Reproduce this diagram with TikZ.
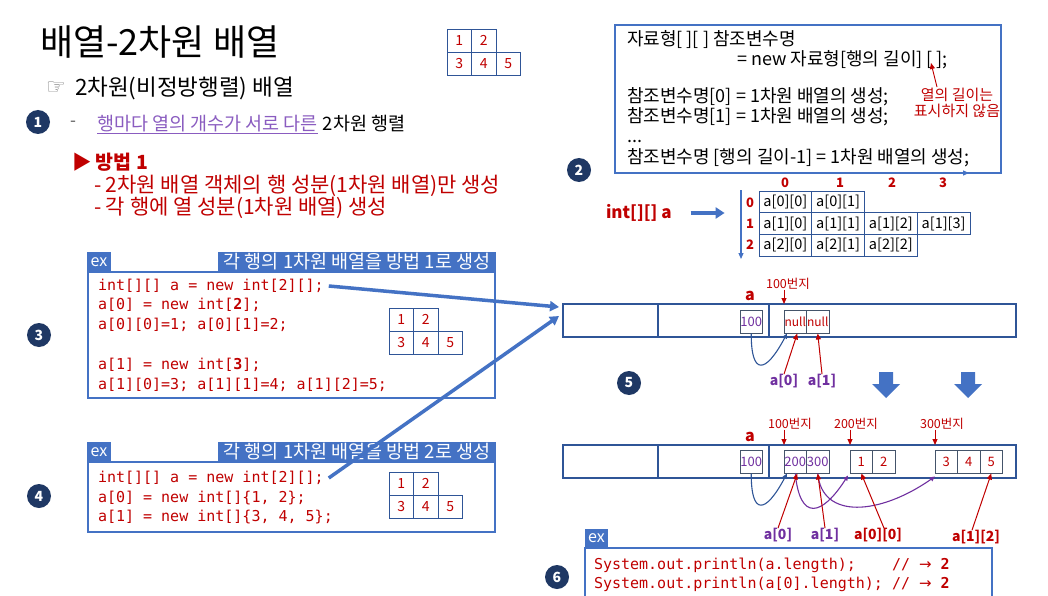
\documentclass[tikz,border=0pt]{standalone}
\usepackage{fontspec}
\setmainfont{Noto Sans CJK KR}
\setmonofont{DejaVu Sans Mono}
\newfontfamily\djv{DejaVu Sans}
\usetikzlibrary{arrows.meta}
\definecolor{navy}{HTML}{1F3864}
\definecolor{mblue}{HTML}{4472C4}
\definecolor{dblue}{HTML}{2F5597}
\definecolor{kred}{HTML}{C00000}
\definecolor{kpurple}{HTML}{7030A0}
\definecolor{lpurple}{HTML}{8A5CC0}
\definecolor{cellgray}{HTML}{44546A}
\newcommand\fsz[1]{\fontsize{#1}{#1}\selectfont}
\newcommand\rarr{{\djv\fsz{15}→}}
\begin{document}
\begin{tikzpicture}[x=1pt,y=-1pt,
  every node/.style={inner sep=0pt, outer sep=0pt},
  numc/.style={circle, fill=navy, text=white, minimum size=24pt, font=\bfseries\fsz{14}},
  txt/.style={anchor=west},
  code/.style={anchor=west, text=kred, font=\ttfamily\fsz{15}},
  smcell/.style={draw=dblue, line width=0.9pt, minimum width=24.5pt, minimum height=23pt, anchor=north west, text=kred, font=\fsz{14}},
  bigcell/.style={draw=dblue, line width=0.9pt, minimum width=52.75pt, minimum height=21.7pt, anchor=north west, font=\fsz{14.5}},
  mcell/.style={draw=cellgray, line width=0.9pt, minimum width=22.5pt, minimum height=23.5pt, anchor=north west, font=\fsz{13}},
  redarr/.style={draw=kred, line width=1pt, -{Triangle[length=6pt,width=5pt]}},
  tab/.style={fill=mblue, text=white, anchor=north west, minimum height=20pt},
  exbox/.style={draw=mblue, line width=1.5pt},
  memline/.style={draw=dblue, line width=2.6pt},
  bigarr/.style={draw=mblue, line width=3.5pt, -{Triangle[length=9pt,width=10pt]}},
  curv/.style={line width=1.1pt, -{Triangle[length=5pt,width=4.5pt]}},
  idx/.style={text=kred, font=\bfseries\fsz{13}},
  addr/.style={text=kred, font=\fsz{12.5}},
  lab/.style={font=\bfseries\fsz{14}},
  syn/.style={anchor=west, font=\fsz{18}}
]
\clip (0,0) rectangle (1048,596);
\fill[white] (0,0) rectangle (1048,596);

% ---------- title block ----------
\node[txt, font=\fsz{36}] (title) at (40,42) {배열-2차원 배열};
\node[txt, text=gray, font=\djv\fsz{22}] (hand) at (46,88) {☞};
\node[txt, font=\fsz{22.5}] (sub) at (75,88) {2차원(비정방행렬) 배열};
\node[numc] (c1) at (38,122) {1};
\node[txt, text=gray!70!black, font=\fsz{17}] (dash1) at (70,124) {-};
\node[txt, text=lpurple, font=\fsz{18.5}] (u1) at (97,124) {행마다 열의 개수가 서로 다른};
\draw[lpurple, line width=0.8pt] ([yshift=-1pt]u1.south west) -- ([yshift=-1pt]u1.south east);
\node[txt, font=\fsz{18.5}] (u2) at ([xshift=5pt]u1.east) {2차원 행렬};
\node[txt, text=kred, font=\bfseries\fsz{19.5}] (m1) at (72,162) {▶ 방법 1};
\node[txt, text=kred, font=\fsz{21}] (m2) at (94,186) {- 2차원 배열 객체의 행 성분(1차원 배열)만 생성};
\node[txt, text=kred, font=\fsz{21}] (m3) at (94,208) {- 각 행에 열 성분(1차원 배열) 생성};

% top small matrix
\node[smcell] (t11) at (447,29) {1};
\node[smcell] (t12) at (471.5,29) {2};
\node[smcell] (t21) at (447,52) {3};
\node[smcell] (t22) at (471.5,52) {4};
\node[smcell] (t23) at (496,52) {5};

% ---------- top right syntax box ----------
\node[draw=mblue, line width=1.4pt, anchor=north west, minimum width=386pt, minimum height=148pt] (synbox) at (615,25) {};
\node[syn] (b1) at (627,40) {자료형[ ][ ] 참조변수명};
\node[syn] (b2) at (737,60) {= new 자료형[행의 길이] [ ];};
\node[syn] (b3) at (627,97) {참조변수명[0] = 1차원 배열의 생성;};
\node[syn] (b4) at (627,117) {참조변수명[1] = 1차원 배열의 생성;};
\node[anchor=base west, font=\fsz{18}] (b5) at (627,143) {...};
\node[syn] (b6) at (627,158) {참조변수명 [행의 길이-1] = 1차원 배열의 생성;};
\node[text=kred, font=\fontsize{15}{16}\selectfont, align=center] (note) at (957,103) {열의 길이는\\표시하지 않음};
\coordinate (brk) at (931,63);
\draw[redarr, line width=0.9pt] (937,87) -- (brk);
\draw[draw=mblue, line width=1.2pt, -{Triangle[length=6pt,width=5pt]}] ([xshift=142pt]synbox.south west) -- ([xshift=-32pt]synbox.south east);
\node[numc] (c2) at (579,170) {2};

% column / row indices
\node[idx] (ci0) at (785,183) {0};
\node[idx] (ci1) at (840,183) {1};
\node[idx] (ci2) at (892,183) {2};
\node[idx] (ci3) at (943,183) {3};
\node[idx] (ri0) at (750,203) {0};
\node[idx] (ri1) at (750,224) {1};
\node[idx] (ri2) at (750,245) {2};
\coordinate (vtop) at (741,190);
\coordinate (vbot) at (741,259);
\draw[draw=mblue, line width=1.1pt, -{Triangle[length=6pt,width=5pt]}] (vtop) -- (vbot);

% big matrix
\node[bigcell] (g00) at (759,191) {a[0][0]};
\node[bigcell] (g01) at (811.75,191) {a[0][1]};
\node[bigcell] (g10) at (759,212.7) {a[1][0]};
\node[bigcell] (g11) at (811.75,212.7) {a[1][1]};
\node[bigcell] (g12) at (864.5,212.7) {a[1][2]};
\node[bigcell] (g13) at (917.25,212.7) {a[1][3]};
\node[bigcell] (g20) at (759,234.4) {a[2][0]};
\node[bigcell] (g21) at (811.75,234.4) {a[2][1]};
\node[bigcell] (g22) at (864.5,234.4) {a[2][2]};
\node[txt, text=kred, font=\bfseries\fsz{17}] (ia) at (606,213) {int[][] a};
\draw[draw=mblue, line width=4pt, -{Triangle[length=9pt,width=11pt]}] ([xshift=19pt]ia.east) -- ++(34,0);

% ---------- ex box 1 ----------
\node[tab, minimum width=24pt, font=\fsz{16}] (ex1) at (87,252) {ex};
\node[tab, minimum width=278pt, font=\fsz{18.5}] (tt1) at (218,252) {각 행의 1차원 배열을 방법 1로 생성};
\draw[exbox] (88,272) rectangle (495,398);
\node[code] (l1) at (98,286) {int[][] a = new int[2][];};
\node[code] (l2) at (98,305) {a[0] = new int[\textbf{2}];};
\node[code] (l3) at (98,325) {a[0][0]=1; a[0][1]=2;};
\node[code] (l4) at (98,365) {a[1] = new int[\textbf{3}];};
\node[code] (l5) at (98,385) {a[1][0]=3; a[1][1]=4; a[1][2]=5;};
\node[smcell] (p11) at (389,308) {1};
\node[smcell] (p12) at (413.5,308) {2};
\node[smcell] (p21) at (389,331) {3};
\node[smcell] (p22) at (413.5,331) {4};
\node[smcell] (p23) at (438,331) {5};
\node[numc] (c3) at (39,335) {3};

% ---------- ex box 2 ----------
\node[tab, minimum width=24pt, font=\fsz{16}] (ex2) at (87,442) {ex};
\node[tab, minimum width=278pt, font=\fsz{18.5}] (tt2) at (218,442) {각 행의 1차원 배열을 방법 2로 생성};
\draw[exbox] (88,462) rectangle (495,532);
\node[code] (k1) at (98,478) {int[][] a = new int[2][];};
\node[code] (k2) at (98,498) {a[0] = new int[]\{1, 2\};};
\node[code] (k3) at (98,517) {a[1] = new int[]\{3, 4, 5\};};
\node[smcell] (q11) at (389,472) {1};
\node[smcell] (q12) at (413.5,472) {2};
\node[smcell] (q21) at (389,495) {3};
\node[smcell] (q22) at (413.5,495) {4};
\node[smcell] (q23) at (438,495) {5};
\node[numc] (c4) at (39,496) {4};

% ---------- memory row 1 ----------
\node[memline, anchor=north west, minimum width=453pt, minimum height=33pt] (mem1) at (563,304) {};
\draw[memline] (658,304) -- (658,337);
\draw[memline] (769,304) -- (769,337);
\node[mcell, text=kpurple] (r1a) at (740,310) {100};
\node[mcell, text=kred, font=\fsz{12}] (r1n0) at (784,310) {null};
\node[mcell, text=kred, font=\fsz{12}] (r1n1) at (806.5,310) {null};
\node[text=kred, font=\bfseries\fsz{16}] (r1lab) at (750,296) {a};
\node[addr] (r1addr) at (788,284) {100번지};
\draw[redarr] (r1addr.south -| r1n0.west) -- ([yshift=6pt]r1n0.north west);
\draw[curv, draw=dblue] (r1a.south) .. controls (751,375) and (765,375) .. ([xshift=3pt]r1n0.south west);
\node[lab, text=kpurple] (r1l0) at (784,381) {a[0]};
\node[lab, text=kpurple] (r1l1) at (822,381) {a[1]};
\draw[redarr] (r1l0.north) -- ([xshift=2pt]r1n0.south);
\draw[redarr] (r1l1.north) -- (r1n1.south);
\node[numc] (c5) at (629,383) {5};
\fill[mblue] (879,372) -- (893,372) -- (893,384) -- (900,384) -- (886,398) -- (872,384) -- (879,384) -- cycle;
\fill[mblue] (961,372) -- (975,372) -- (975,384) -- (982,384) -- (968,398) -- (954,384) -- (961,384) -- cycle;

% ---------- memory row 2 ----------
\node[memline, anchor=north west, minimum width=453pt, minimum height=33pt] (mem2) at (563,445) {};
\draw[memline] (658,445) -- (658,478);
\draw[memline] (769,445) -- (769,478);
\node[mcell, text=kpurple] (r2a) at (740,450) {100};
\node[mcell, text=kpurple] (r2b) at (784,450) {200};
\node[mcell, text=kpurple] (r2c) at (806.5,450) {300};
\node[mcell, text=kred] (r2d1) at (850,450) {1};
\node[mcell, text=kred] (r2d2) at (872.5,450) {2};
\node[mcell, text=kred] (r2e3) at (935,450) {3};
\node[mcell, text=kred] (r2e4) at (957.5,450) {4};
\node[mcell, text=kred] (r2e5) at (980,450) {5};
\node[text=kred, font=\bfseries\fsz{16}] (r2lab) at (750,437) {a};
\node[addr] (r2addr1) at (790,424) {100번지};
\node[addr] (r2addr2) at (856,424) {200번지};
\node[addr] (r2addr3) at (942,424) {300번지};
\draw[redarr] (r2addr1.south -| r2b.west) -- ([yshift=5pt]r2b.north west);
\draw[redarr] (r2addr2.south -| r2d1.west) -- ([yshift=5pt]r2d1.north west);
\draw[redarr] (r2addr3.south -| r2e3.west) -- ([yshift=5pt]r2e3.north west);
\draw[curv, draw=dblue] (r2a.south) .. controls (751,515) and (765,515) .. ([xshift=3pt]r2b.south west);
\draw[curv, draw=kpurple] (r2b.south) .. controls (800,522) and (822,516) .. ([xshift=-2pt,yshift=-2pt]r2d1.south west);
\draw[curv, draw=kpurple] (r2c.south) .. controls (822,520) and (880,515) .. ([yshift=-3pt]r2e3.south west);
\node[lab, text=kpurple] (r2l0) at (778,535) {a[0]};
\node[lab, text=kpurple] (r2l1) at (825,535) {a[1]};
\node[lab, text=kred] (r2l2) at (878,535) {a[0][0]};
\node[lab, text=kred] (r2l3) at (976,537) {a[1][2]};
\draw[redarr] (r2l0.north) -- ([xshift=2pt]r2b.south);
\draw[redarr] (r2l1.north) -- (r2c.south);
\draw[redarr] ([xshift=6pt]r2l2.north) -- (r2d1.south);
\draw[redarr] ([xshift=-4pt]r2l3.north) -- (r2e5.south);

% big arrows from code to memory
\draw[bigarr] ([xshift=5pt]l1.east) -- ([xshift=-4pt,yshift=-3pt]mem1.north west);
\draw[bigarr] ([xshift=5pt]k1.east) -- ([xshift=-4pt,yshift=-12pt]mem1.north west);

% ---------- bottom ex box ----------
\node[tab, minimum width=23pt, minimum height=19pt, font=\fsz{16}] (ex3) at (585,529) {ex};
\draw[exbox] (585,548) rectangle (992,612);
\node[code] (s1) at (594,565) {System.out.println(a.length);\ \ \ \ // \rarr{} \textbf{2}};
\node[code] (s2) at (594,584) {System.out.println(a[0].length); // \rarr{} \textbf{2}};
\node[numc] (c6) at (557,577) {6};
\end{tikzpicture}
\end{document}
